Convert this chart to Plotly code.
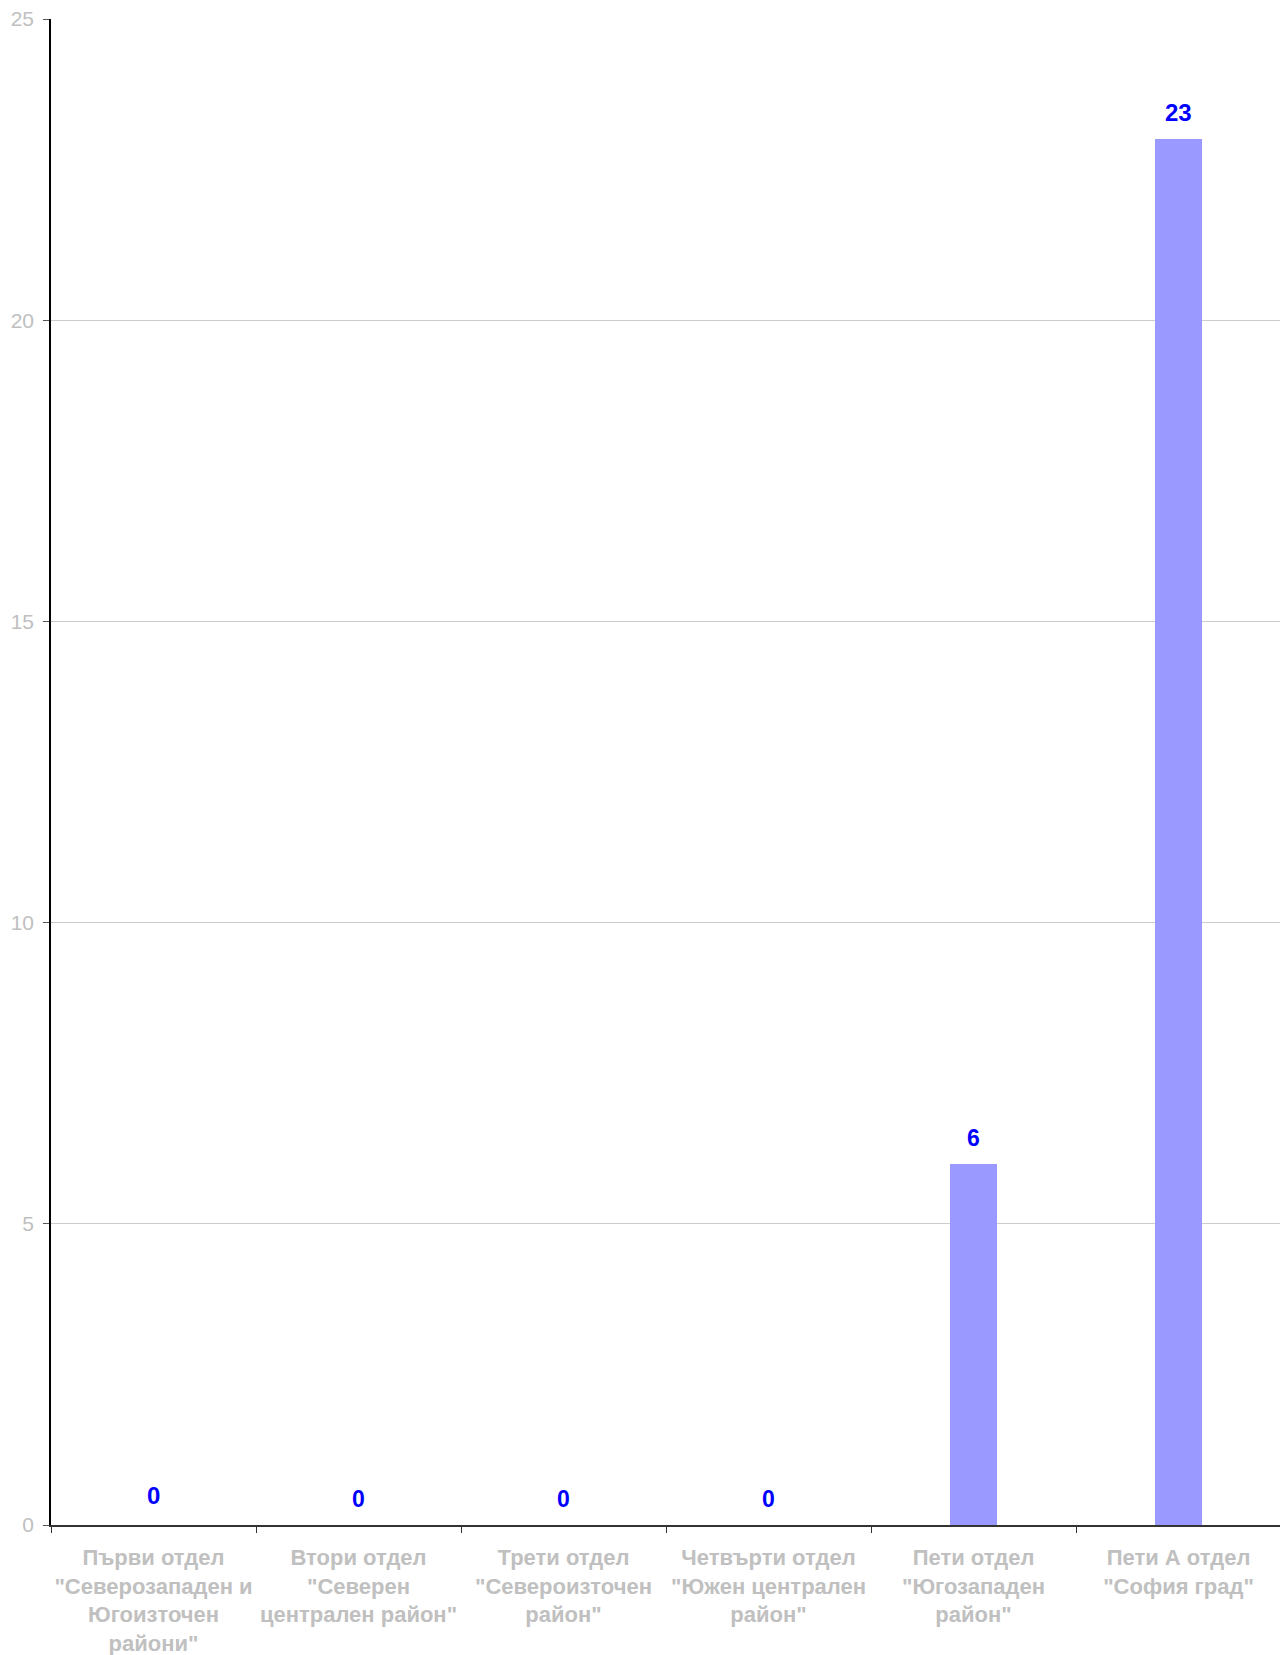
import plotly.graph_objects as go

categories = [
    "Първи отдел<br>\"Северозападен и<br>Югоизточен<br>райони\"",
    "Втори отдел<br>\"Северен<br>централен район\"",
    "Трети отдел<br>\"Североизточен<br>район\"",
    "Четвърти отдел<br>\"Южен централен<br>район\"",
    "Пети отдел<br>\"Югозападен<br>район\"",
    "Пети А отдел<br>\"София град\"",
]
values = [0, 0, 0, 0, 6, 23]
label_sizes = [24, 23, 23, 23, 23, 24]
y_ticks = [0, 5, 10, 15, 20, 25]

FONT = "Liberation Sans, Arial, sans-serif"

fig = go.Figure()
fig.add_trace(go.Bar(
    x=categories,
    y=values,
    marker=dict(color="#9999ff", line=dict(width=0)),
    width=0.225,
    hoverinfo="skip",
))

for i, (c, v, s) in enumerate(zip(categories, values, label_sizes)):
    fig.add_annotation(
        x=c, y=v, text=f"<b>{v}</b>", showarrow=False,
        yanchor="bottom", yshift=14 if i == 0 else 11,
        font=dict(family=FONT, size=s, color="#0000ff"),
    )

fig.update_layout(
    width=1280, height=1647,
    margin=dict(l=43, r=7, t=11, b=130, autoexpand=False),
    paper_bgcolor="white", plot_bgcolor="white",
    showlegend=False,
    font=dict(family=FONT),
    bargap=0,
)
fig.update_xaxes(
    showline=True, linecolor="#333333", linewidth=1.5,
    ticks="outside", tickson="boundaries", ticklen=6, tickcolor="#333333",
    tickfont=dict(size=22, color="#c0c0c0", family=FONT, weight="bold"),
    ticklabelstandoff=12, ticklabeloverflow="allow",
    tickangle=0, showgrid=False, automargin=False,
)
fig.update_yaxes(
    range=[0, 25], tickvals=y_ticks,
    showline=True, linecolor="#000000", linewidth=1.5,
    ticks="outside", ticklen=6, tickcolor="#555555",
    tickfont=dict(size=21, color="#c0c0c0", family=FONT),
    ticklabelstandoff=5, ticklabeloverflow="allow",
    showgrid=True, gridcolor="#cccccc", gridwidth=1,
    zeroline=False, automargin=False,
)

fig.write_html("out.html")
